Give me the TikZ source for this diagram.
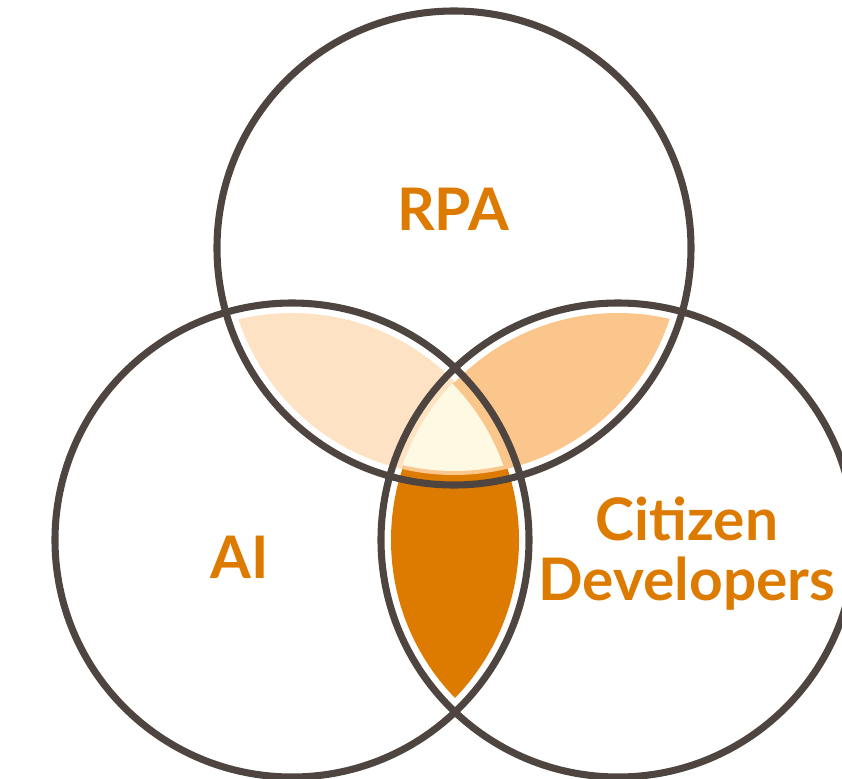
\documentclass[tikz,border=0pt]{standalone}
\usepackage{fontspec}
\setmainfont{Lato}
\definecolor{ring}{HTML}{4F4540}
\definecolor{labelorange}{HTML}{DD7A00}
\definecolor{lensA}{HTML}{FDE2C4}
\definecolor{lensB}{HTML}{FBC68C}
\definecolor{lensC}{HTML}{DD7A00}
\definecolor{core}{HTML}{FEF9E3}
\tikzset{
  ringline/.style={draw=ring, line width=5.3pt},
  setlabel/.style={text=labelorange, font=\fontsize{44}{52}\selectfont\bfseries, anchor=base, inner sep=0pt, align=center},
}
\begin{document}
\begin{tikzpicture}[x=0.75pt,y=-0.75pt]
\useasboundingbox (0,0) rectangle (842,778);
\clip (0,0) rectangle (842,778);
% circle centres
\coordinate (rpa) at (454,248);
\coordinate (ai) at (292,540);
\coordinate (cd) at (618,540);
% pairwise overlaps, inset from their own rims
\begin{scope}
  \clip (ai) circle[radius=170.25pt];
  \fill[lensA] (rpa) circle[radius=170.25pt];
\end{scope}
\begin{scope}
  \clip (ai) circle[radius=170.25pt];
  \fill[lensC] (cd) circle[radius=170.25pt];
\end{scope}
\begin{scope}
  \clip (cd) circle[radius=170.25pt];
  \fill[lensB] (rpa) circle[radius=170.25pt];
\end{scope}
% triple overlap
\begin{scope}
  \clip (ai) circle[radius=168pt];
  \clip (cd) circle[radius=171pt];
  \fill[core] (rpa) circle[radius=167.25pt];
\end{scope}
% rims
\draw[ringline] (rpa) circle[radius=177.75pt];
\draw[ringline] (ai) circle[radius=177.75pt];
\draw[ringline] (cd) circle[radius=177.75pt];
% labels
\node[setlabel] (lrpa) at (453,230) {RPA};
\node[setlabel] (lai) at (240,578) {AI};
\node[setlabel] (lcit) at (687,540) {Citizen};
\node[setlabel] (ldev) at (687,600) {Developers};
\end{tikzpicture}
\end{document}
